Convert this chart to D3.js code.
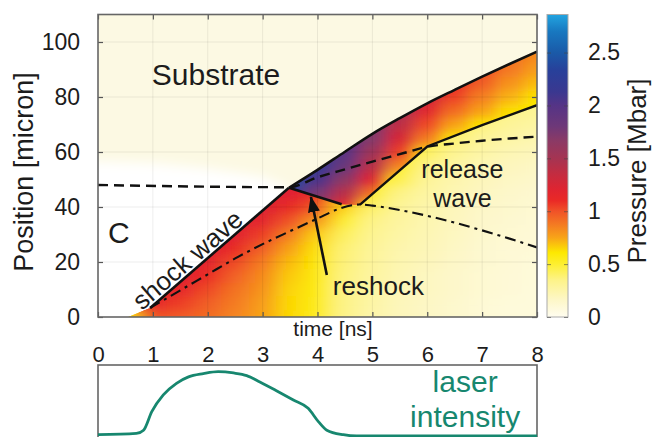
<!DOCTYPE html>
<html><head><meta charset="utf-8">
<script src="https://cdn.jsdelivr.net/npm/d3@7"></script>
<style>
html,body{margin:0;padding:0;background:#fff;}
svg{display:block;}
text{font-family:"Liberation Sans",Arial,sans-serif;fill:#1c1c1c;}
</style></head><body>
<svg id="chart" width="666" height="437"></svg>
<script>
// ---------------- data ----------------
const xTicks = [0,1,2,3,4,5,6,7,8];
const yTicks = [0,20,40,60,80,100];
const pressureTicks = [0,0.5,1,1.5,2,2.5];
const colorStops = [0,0.16,0.35,0.5,0.61,0.75,0.87,1.0,1.1,1.2,1.35,1.5,1.67,1.8,2.0,2.13,2.33,2.5,2.7,2.86];
const colorHex = ["#fffdf0","#fdf7c8","#fdf388","#fdef30","#fde800","#f8a418","#f47c22","#f05228","#ea2a26","#e02430","#c42c40","#a53452","#8a3a66","#6e3878","#553486","#3a3890","#28409a","#1a5aa8","#1878c0","#22a4e0"];

// wave lines [time ns, position micron]
const shockFront = [[0.95,3.3],[3.48,47]];
const transmittedShock = [[3.48,47],[4,53.5],[4.5,60.1],[5,66.6],[5.5,72.3],[6,77.7],[6.5,82.6],[7,87.4],[7.5,92],[8,96.5]];
const interfaceLine = [[0,48],[3.48,47.2],[4,50.8],[4.5,53.7],[5,56.5],[5.5,59.2],[6,61.9],[6.5,63.1],[7,64.1],[7.5,64.9],[8,65.6]];
const reshockLine = [[3.48,47],[4.44,41]];
const releaseLine = [[4.77,40.8],[6,62],[7,69.8],[8,77]];
const dashDotLine = [[0.95,3.3],[1.5,9.7],[2,15.5],[2.5,21.3],[3,26.5],[3.5,31.2],[4,35.8],[4.4,39.4],[4.77,40.9],[5,40.5],[5.5,38.9],[6,36.8],[6.5,34.3],[7,31.5],[7.5,28.5],[8,25.3]];
const unshockedSample = [[-0.5,-10],[-0.5,57],[1,56],[2,54],[3,51],[3.48,47],[3.6,-10]];

// pressure field [Mbar] behind the shock (sample side): columns = time, rows = position
const lowerTimes = [0.5,1,1.5,2,2.5,3,3.5,4,4.5,5,5.5,6,6.5,7,7.5,8];
const lowerPositions = [0,5,10,15,20,25,30,35,40,45,50,55,60,65,70,75];
const lowerPressure = [
  [0.6,1.0,1.1,1.15,1.2,1.2,1.2,1.2,1.2,1.2,1.2,1.2,1.2,1.2,1.2,1.2],
  [1.0,1.15,1.2,1.2,1.2,1.2,1.2,1.2,1.2,1.2,1.2,1.2,1.2,1.2,1.2,1.2],
  [0.97,1.05,1.15,1.2,1.2,1.2,1.2,1.2,1.2,1.2,1.2,1.2,1.2,1.2,1.2,1.2],
  [0.92,0.96,1.02,1.1,1.18,1.2,1.2,1.2,1.2,1.2,1.2,1.2,1.2,1.2,1.2,1.2],
  [0.84,0.87,0.9,0.95,1.02,1.12,1.2,1.2,1.2,1.2,1.2,1.2,1.2,1.2,1.2,1.2],
  [0.76,0.77,0.8,0.83,0.88,0.96,1.05,1.17,1.22,1.22,1.22,1.22,1.22,1.22,1.22,1.22],
  [0.64,0.64,0.65,0.67,0.7,0.76,0.86,1.0,1.12,1.2,1.2,1.2,1.2,1.2,1.2,1.2],
  [0.55,0.56,0.57,0.58,0.6,0.62,0.66,0.78,0.98,1.1,1.1,1.1,1.1,1.1,1.1,1.1],
  [0.34,0.35,0.35,0.36,0.37,0.38,0.42,0.5,0.65,0.7,0.7,0.7,0.7,0.7,0.7,0.7],
  [0.25,0.26,0.27,0.28,0.29,0.3,0.32,0.35,0.4,0.5,0.55,0.55,0.55,0.55,0.55,0.55],
  [0.2,0.2,0.21,0.22,0.23,0.24,0.26,0.28,0.3,0.35,0.45,0.52,0.55,0.55,0.55,0.55],
  [0.17,0.17,0.18,0.18,0.2,0.21,0.22,0.23,0.25,0.27,0.3,0.35,0.42,0.48,0.5,0.5],
  [0.14,0.14,0.15,0.15,0.16,0.17,0.18,0.19,0.2,0.22,0.24,0.27,0.32,0.38,0.45,0.45],
  [0.11,0.11,0.12,0.12,0.13,0.13,0.14,0.15,0.16,0.18,0.2,0.22,0.26,0.3,0.36,0.4],
  [0.09,0.09,0.1,0.1,0.11,0.11,0.12,0.13,0.14,0.15,0.17,0.19,0.22,0.26,0.3,0.35],
  [0.08,0.08,0.08,0.09,0.09,0.1,0.1,0.11,0.12,0.13,0.15,0.17,0.2,0.23,0.27,0.31]
];
// pressure field [Mbar] in the compressed band after the interface
const upperTimes = [3.5,4,4.5,5,5.5,6,6.5,7,7.5,8];
const upperPositions = [40,45,50,55,60,65,70,75,80,85,90,95,100];
const upperPressure = [
  [1.95,2.25,2.4,2.45,2.45,2.45,2.45,2.45,2.45,2.45,2.45,2.45,2.45],
  [1.5,1.75,2.05,2.2,2.25,2.25,2.25,2.25,2.25,2.25,2.25,2.25,2.25],
  [1.1,1.4,1.65,1.85,1.95,2.0,2.0,2.0,2.0,2.0,2.0,2.0,2.0],
  [0.65,0.9,1.2,1.4,1.55,1.7,1.72,1.72,1.72,1.72,1.72,1.72,1.72],
  [0.6,0.6,0.65,0.85,1.05,1.25,1.38,1.5,1.5,1.5,1.5,1.5,1.5],
  [0.6,0.6,0.6,0.62,0.66,0.88,1.02,1.18,1.28,1.28,1.28,1.28,1.28],
  [0.6,0.6,0.6,0.6,0.6,0.62,0.76,0.92,1.04,1.12,1.12,1.12,1.12],
  [0.6,0.6,0.6,0.6,0.6,0.6,0.62,0.76,0.86,0.96,1.02,1.02,1.02],
  [0.6,0.6,0.6,0.6,0.6,0.6,0.6,0.63,0.72,0.8,0.88,0.92,0.92],
  [0.6,0.6,0.6,0.6,0.6,0.6,0.6,0.6,0.62,0.7,0.77,0.83,0.86]
];

// laser pulse (relative intensity)
const laserTime = [0,0.7,0.83,0.98,1.19,1.43,1.65,1.92,2.19,2.47,2.71,2.95,3.26,3.56,3.83,4.02,4.17,4.47,4.71,6,8];
const laserIntensity = [0.02,0.04,0.09,0.38,0.64,0.82,0.92,0.97,1.0,0.98,0.94,0.84,0.70,0.56,0.43,0.22,0.09,0.02,0.0,0.0,0.0];

// annotations [time, position]
const substrateLabel = {text:"Substrate", t:0.98, p:84.4};
const panelLabel = {text:"C", t:0.18, p:26.9};
const shockLabel = {text:"shock wave", t:0.80, p:2.2};
const reshockLabel = {text:"reshock", t:4.28, p:8};
const releaseLabel = {lines:["release","wave"], t:6.64, p:[50.4,40]};
const reshockArrow = [[4.17,15.3],[3.88,43.6]];
const laserLabel = {lines:["laser","intensity"], t:6.69, i:[0.68,0.14]};

// ---------------- scales ----------------
const svg = d3.select("#chart");
const x = d3.scaleLinear().domain([0,8]).range([98,537]);
const y = d3.scaleLinear().domain([0,110]).range([317,14.5]);
const cy = d3.scaleLinear().domain([0,2.86]).range([317,14.5]);
const color = d3.scaleLinear().domain(colorStops).range(colorHex).interpolate(d3.interpolateRgb).clamp(true);
const yl = d3.scaleLinear().domain([0,1]).range([436,371.7]);

const defs = svg.append("defs");
defs.append("clipPath").attr("id","plotClip").append("rect")
  .attr("x",x(0)).attr("y",y(110)).attr("width",x(8)-x(0)).attr("height",y(0)-y(110));

const poly = d3.line().x(d=>x(d[0])).y(d=>y(d[1]));
const regionU = transmittedShock.concat([[8,releaseLine[releaseLine.length-1][1]]], releaseLine.slice().reverse(), reshockLine.slice().reverse());
const regionL = [[0.55,0]].concat(shockFront, reshockLine.slice(1), releaseLine, [[8,-5],[0.55,-5]]);
defs.append("clipPath").attr("id","clipU").append("path").attr("d", poly(regionU)+"Z");
defs.append("clipPath").attr("id","clipL").append("path").attr("d", poly(regionL)+"Z");

const f1 = defs.append("filter").attr("id","blurL").attr("x","-5%").attr("y","-5%").attr("width","110%").attr("height","110%");
f1.append("feGaussianBlur").attr("stdDeviation","10 5");
const f2 = defs.append("filter").attr("id","blurU").attr("x","-5%").attr("y","-5%").attr("width","110%").attr("height","110%");
f2.append("feGaussianBlur").attr("stdDeviation","8 5");
const f3 = defs.append("filter").attr("id","blurW").attr("x","-20%").attr("y","-20%").attr("width","140%").attr("height","140%");
f3.append("feGaussianBlur").attr("stdDeviation","6");

// ---------------- main plot ----------------
const plot = svg.append("g").attr("clip-path","url(#plotClip)");
plot.append("rect").attr("x",x(0)).attr("y",y(110)).attr("width",x(8)-x(0)).attr("height",y(0)-y(110)).attr("fill","#fcf9e3");
plot.append("path").attr("d", poly(unshockedSample)+"Z").attr("fill","#ffffff").attr("filter","url(#blurW)");

function field(times, positions, values, clipId, filterId){
  const dt = times[1]-times[0], dp = positions[1]-positions[0];
  const cells = [];
  times.forEach((t,i)=>positions.forEach((p,j)=>cells.push({t,p,v:values[i][j]})));
  const g = plot.append("g").attr("clip-path",`url(#${clipId})`);
  [null, filterId].forEach(fid=>{
    const layer = g.append("g");
    if (fid) layer.attr("filter",`url(#${fid})`);
    layer.selectAll("rect").data(cells).join("rect")
      .attr("x", d=>x(d.t-dt/2)).attr("width", x(dt)-x(0)+0.6)
      .attr("y", d=>y(d.p+dp/2)).attr("height", y(0)-y(dp)+0.6)
      .attr("fill", d=>color(d.v));
  });
}
field(lowerTimes, lowerPositions, lowerPressure, "clipL", "blurL");
field(upperTimes, upperPositions, upperPressure, "clipU", "blurU");

// grid
const grid = plot.append("g").attr("stroke","#000").attr("stroke-opacity",0.07).attr("stroke-width",1);
grid.selectAll("line.v").data(xTicks.slice(1,-1)).join("line")
  .attr("x1",d=>x(d)).attr("x2",d=>x(d)).attr("y1",y(0)).attr("y2",y(110));
grid.selectAll("line.h").data(yTicks.slice(1)).join("line")
  .attr("y1",d=>y(d)).attr("y2",d=>y(d)).attr("x1",x(0)).attr("x2",x(8));

// wave lines
const curve = d3.line().x(d=>x(d[0])).y(d=>y(d[1])).curve(d3.curveMonotoneX);
const lines = plot.append("g").attr("fill","none").attr("stroke","#111");
lines.append("path").attr("d",curve(interfaceLine)).attr("stroke-width",2.4).attr("stroke-dasharray","10,6");
lines.append("path").attr("d",curve(dashDotLine)).attr("stroke-width",2.1).attr("stroke-dasharray","11,5,3,5");
lines.append("path").attr("d",poly(shockFront)).attr("stroke-width",2.6);
lines.append("path").attr("d",curve(transmittedShock)).attr("stroke-width",2.6);
lines.append("path").attr("d",poly(reshockLine)).attr("stroke-width",2.4);
lines.append("path").attr("d",poly(releaseLine)).attr("stroke-width",2.4);

// frame and ticks
const axG = svg.append("g");
axG.append("g").attr("transform",`translate(${x(0)},0)`)
  .call(d3.axisLeft(y).tickValues(yTicks).tickSize(-5).tickPadding(18).tickFormat(d=>d))
  .call(g=>{g.select(".domain").remove(); g.selectAll("text").attr("font-size",23).attr("font-family","Liberation Sans, Arial, sans-serif").attr("fill","#1c1c1c");});
axG.append("g").attr("transform",`translate(${x(8)},0)`)
  .call(d3.axisRight(y).tickValues(yTicks).tickSize(-5).tickFormat(""))
  .call(g=>g.select(".domain").remove());
axG.append("g").attr("transform",`translate(0,${y(0)})`)
  .call(d3.axisBottom(x).tickValues(xTicks).tickSize(-5).tickFormat(""))
  .call(g=>g.select(".domain").remove());
axG.append("g").attr("transform",`translate(0,${y(110)})`)
  .call(d3.axisTop(x).tickValues(xTicks).tickSize(-5).tickFormat(""))
  .call(g=>g.select(".domain").remove());
axG.selectAll(".tick line").attr("stroke","#555").attr("stroke-width",1.2);
svg.append("rect").attr("x",x(0)).attr("y",y(110)).attr("width",x(8)-x(0)).attr("height",y(0)-y(110))
  .attr("fill","none").attr("stroke","#666").attr("stroke-width",1.6);

// x tick labels (shared by both panels)
svg.append("g").attr("transform","translate(0,346)")
  .call(d3.axisBottom(x).tickValues(xTicks).tickSize(0).tickPadding(0).tickFormat(d=>d))
  .call(g=>{g.select(".domain").remove(); g.selectAll("text").attr("font-size",22).attr("font-family","Liberation Sans, Arial, sans-serif").attr("fill","#1c1c1c");});

svg.append("text").attr("x",333).attr("y",336).attr("text-anchor","middle").attr("font-size",21).text("time [ns]");
svg.append("text").attr("transform","translate(33,172) rotate(-90)").attr("text-anchor","middle").attr("font-size",27).text("Position [micron]");

// ---------------- colorbar ----------------
const grad = defs.append("linearGradient").attr("id","cbGrad").attr("x1",0).attr("x2",0).attr("y1",1).attr("y2",0);
grad.selectAll("stop").data(colorStops).join("stop")
  .attr("offset",d=>d/colorStops[colorStops.length-1]).attr("stop-color",d=>color(d));
svg.append("rect").attr("x",547).attr("y",cy(2.86)).attr("width",21).attr("height",cy(0)-cy(2.86))
  .attr("fill","url(#cbGrad)").attr("stroke","#aaa").attr("stroke-width",1);
svg.append("g").attr("transform","translate(568,0)")
  .call(d3.axisRight(cy).tickValues(pressureTicks).tickSize(-4).tickPadding(20).tickFormat(d=>String(d)))
  .call(g=>{g.select(".domain").remove(); g.selectAll("line").attr("stroke","#444").attr("stroke-opacity",0.6);
    g.selectAll("text").attr("font-size",23).attr("font-family","Liberation Sans, Arial, sans-serif").attr("fill","#1c1c1c");});
svg.append("g").attr("transform","translate(547,0)")
  .call(d3.axisLeft(cy).tickValues(pressureTicks).tickSize(-4).tickFormat(""))
  .call(g=>{g.select(".domain").remove(); g.selectAll("line").attr("stroke","#444").attr("stroke-opacity",0.6);});
svg.append("text").attr("transform","translate(646,171) rotate(-90)").attr("text-anchor","middle").attr("font-size",26).text("Pressure [Mbar]");

// ---------------- annotations ----------------
svg.append("text").attr("x",x(substrateLabel.t)).attr("y",y(substrateLabel.p)).attr("font-size",30).text(substrateLabel.text);
svg.append("text").attr("x",x(panelLabel.t)).attr("y",y(panelLabel.p)).attr("font-size",30).text(panelLabel.text);
const ang = Math.atan2(y(shockFront[1][1])-y(shockFront[0][1]), x(shockFront[1][0])-x(shockFront[0][0]))*180/Math.PI;
svg.append("text").attr("transform",`translate(${x(shockLabel.t)},${y(shockLabel.p)}) rotate(${ang})`).attr("font-size",26).text(shockLabel.text);
svg.append("text").attr("x",x(reshockLabel.t)).attr("y",y(reshockLabel.p)).attr("font-size",26).text(reshockLabel.text);
const rel = svg.append("text").attr("text-anchor","middle").attr("font-size",25);
releaseLabel.lines.forEach((s,i)=>rel.append("tspan").attr("x",x(releaseLabel.t)).attr("y",y(releaseLabel.p[i])).text(s));

defs.append("marker").attr("id","arrowHead").attr("viewBox","0 0 16 12").attr("markerUnits","userSpaceOnUse")
  .attr("markerWidth",16).attr("markerHeight",12).attr("refX",15).attr("refY",6).attr("orient","auto")
  .append("path").attr("d","M0,0 L16,6 L0,12 Z").attr("fill","#111");
svg.append("path").attr("d",poly(reshockArrow)).attr("stroke","#111").attr("stroke-width",2.6).attr("fill","none").attr("marker-end","url(#arrowHead)");

// ---------------- laser panel ----------------
svg.append("rect").attr("x",x(0)).attr("y",365).attr("width",x(8)-x(0)).attr("height",90)
  .attr("fill","#fff").attr("stroke","#666").attr("stroke-width",1.6);
const laserPts = laserTime.map((t,i)=>[t,laserIntensity[i]]);
svg.append("path").attr("d", d3.line().x(d=>x(d[0])).y(d=>yl(d[1])).curve(d3.curveMonotoneX)(laserPts))
  .attr("fill","none").attr("stroke","#17876f").attr("stroke-width",2.8);
const las = svg.append("text").attr("text-anchor","middle").attr("font-size",30).style("fill","#17876f");
laserLabel.lines.forEach((s,i)=>las.append("tspan").attr("x",x(laserLabel.t)).attr("y",yl(laserLabel.i[i])).text(s));
</script>
</body></html>
